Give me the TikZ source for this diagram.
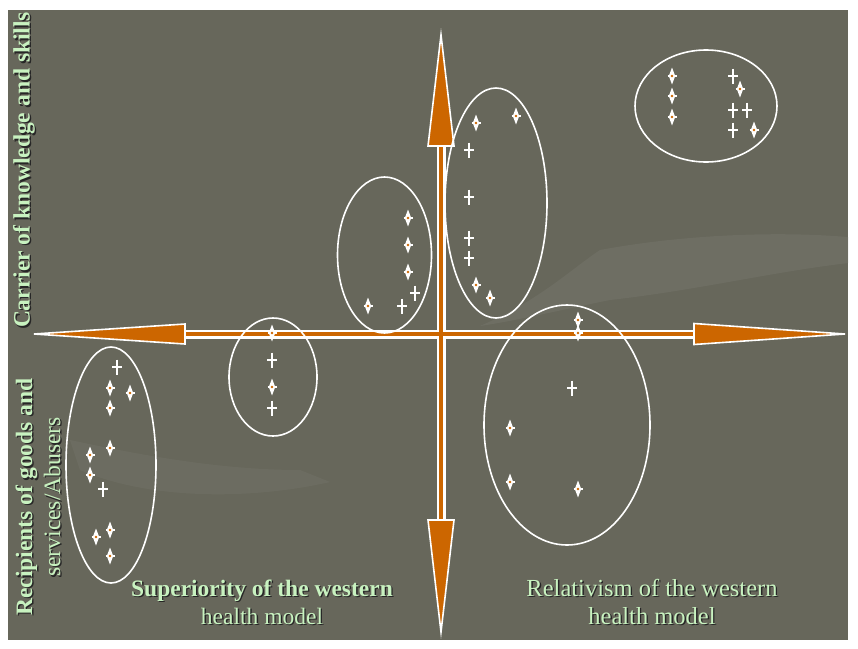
\documentclass[tikz,border=0pt]{standalone}
\usepackage{fontspec}
\setmainfont{Liberation Serif}
\usetikzlibrary{calc}
\definecolor{slatebg}{HTML}{67675B}
\definecolor{faintbg}{HTML}{74746A}
\definecolor{axisorange}{HTML}{CC6600}
\definecolor{labelgreen}{HTML}{C8F2C0}

% text with a dark drop shadow
\newcommand{\glowlabel}[4]{%
  \node[label shade, #3] at ($(#2)+(1.4,1.4)$) {#4};
  \node[label text, #3] (#1) at (#2) {#4};}

\begin{document}
\begin{tikzpicture}[x=1pt, y=-1pt,
        label text/.style={text=labelgreen, font=\fontsize{23.5}{28}\selectfont, inner sep=0pt, align=center},
        label shade/.style={text=black!85, font=\fontsize{23.5}{28}\selectfont, inner sep=0pt, align=center},
        group/.style={draw=white, line width=1.6pt},
        axis shaft/.style={draw=white, line width=9pt},
        axis core/.style={draw=axisorange, line width=4.5pt},
        axis head/.style={fill=axisorange, draw=white, line width=1.6pt, line join=miter},
        plainmark/.pic={\draw[white, line width=2.4pt] (0,-7.5) -- (0,7.5) (-5,0) -- (5,0);},
        dotmark/.pic={\fill[white] (0,-8.5) -- (3.2,0) -- (0,8.5) -- (-3.2,0) -- cycle;
                      \draw[white, line width=1.4pt] (-4.5,0) -- (4.5,0);
                      \fill[axisorange] (0,0) circle (1.3);}
    ]
    \useasboundingbox (0,0) rectangle (858,648);
    \fill[slatebg] (8,10) rectangle (848,640);

    % faint hands in the background
    \begin{scope}
        \clip (8,10) rectangle (848,640);
        \fill[faintbg, opacity=0.55] (600,250) .. controls (680,235) and (780,230) .. (858,238) -- (858,262) .. controls (780,270) and (700,290) .. (610,300) .. controls (560,310) and (520,320) .. (480,326) .. controls (540,300) and (570,270) .. cycle;
        \fill[faintbg, opacity=0.45] (70,440) .. controls (140,455) and (220,470) .. (300,470) -- (330,482) .. controls (250,500) and (150,500) .. (80,470) -- cycle;
    \end{scope}

    % axes
    \coordinate (west) at (34,334);
    \coordinate (east) at (845,334);
    \coordinate (north) at (441,35);
    \coordinate (south) at (441,632);

    \draw[axis shaft] ($(west)+(150,0)$) -- ($(east)+(-150,0)$);
    \draw[axis shaft] ($(north)+(0,110)$) -- ($(south)+(0,-111)$);
    \draw[axis core] ($(west)+(150,0)$) -- ($(east)+(-150,0)$);
    \draw[axis core] ($(north)+(0,110)$) -- ($(south)+(0,-111)$);

    \filldraw[axis head] (west) -- ($(west)+(151,-10)$) -- ($(west)+(151,10)$) -- cycle;
    \filldraw[axis head] (east) -- ($(east)+(-151,-10.5)$) -- ($(east)+(-151,10.5)$) -- cycle;
    \filldraw[axis head] (north) -- ($(north)+(-13,111)$) -- ($(north)+(13,111)$) -- cycle;
    \filldraw[axis head] (south) -- ($(south)+(-13,-112)$) -- ($(south)+(13,-112)$) -- cycle;

    % groups
    \draw[group] (111,465) ellipse (45 and 118);
    \draw[group] (273,377) ellipse (44 and 59);
    \draw[group] (384.5,255) ellipse (47 and 78);
    \draw[group] (496,203) ellipse (51 and 115);
    \draw[group] (706,106) ellipse (71 and 56);
    \draw[group] (567,425) ellipse (83 and 120);

    % members
    \foreach \px/\py in {117/367, 103/489, 272/360, 272/408, 415/293, 402/306,
                         469/150, 469/197, 469/238, 469/258,
                         733/76, 733/110, 747/110, 733/130, 572/388}
        \pic at (\px,\py) {plainmark};
    \foreach \px/\py in {110/388, 130/393, 110/408, 110/448, 90/455, 90/475, 96/537, 110/530, 110/556,
                         272/333, 272/387,
                         408/218, 408/245, 408/272, 368/306,
                         476/123, 516/116, 476/285, 490/298,
                         672/76, 672/96, 672/117, 740/89, 754/130,
                         578/320, 578/333, 510/428, 510/482, 578/489}
        \pic at (\px,\py) {dotmark};

    % labels
    \glowlabel{carrier}{24,170}{rotate=90}{\bfseries Carrier of knowledge and skills}
    \glowlabel{recipients}{38,497}{rotate=90}{\bfseries Recipients of goods and\\services/Abusers}
    \glowlabel{superiority}{262,602}{}{\bfseries Superiority of the western\\\mdseries health model}
    \glowlabel{relativism}{652,602}{font=\fontsize{24.5}{28}\selectfont}{Relativism of the western\\health model}
\end{tikzpicture}
\end{document}
